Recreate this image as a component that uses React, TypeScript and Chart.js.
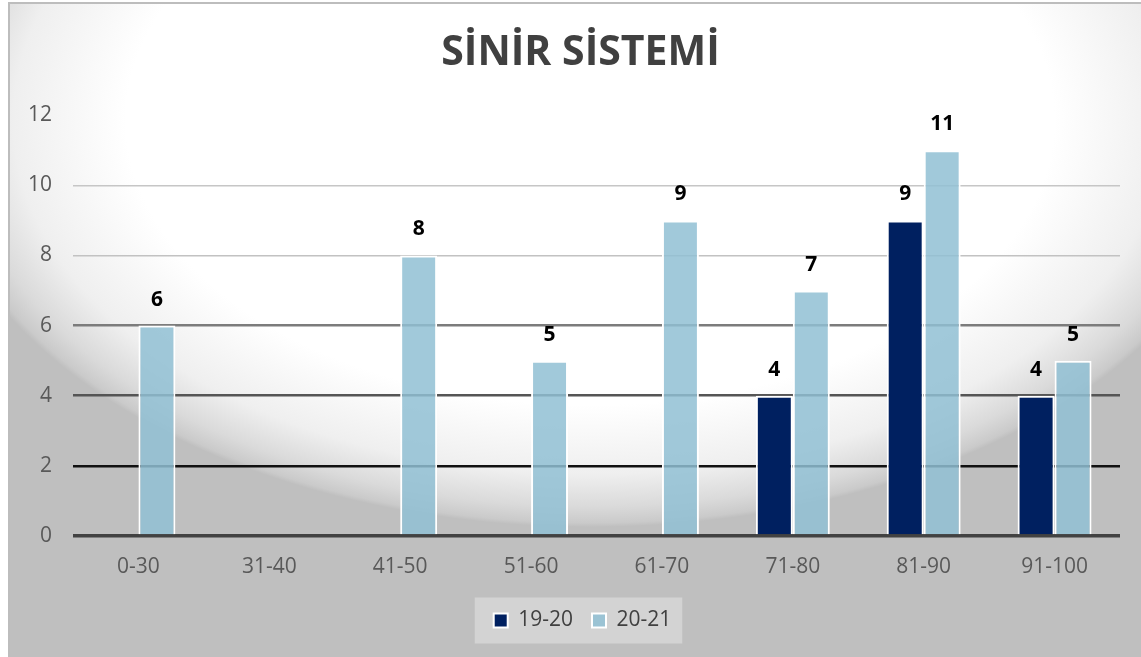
import React, { useEffect, useRef } from "react";
import { Chart, registerables } from "chart.js";

Chart.register(...registerables);

const chartTitle = "SİNİR SİSTEMİ";
const categories = ["0-30", "31-40", "41-50", "51-60", "61-70", "71-80", "81-90", "91-100"];
const seriesNames = ["19-20", "20-21"];
const values1920: (number | null)[] = [null, null, null, null, null, 4, 9, 4];
const values2021: (number | null)[] = [6, null, 8, 5, 9, 7, 11, 5];
const yMin = 0;
const yMax = 12;
const yStep = 2;

const FONT = "'Open Sans', 'Noto Sans', sans-serif";

function gridStyle(v: number): [string, number] {
  if (v >= 12) return ["rgba(0,0,0,0)", 0];
  if (v >= 10) return ["#c6c6c6", 1.5];
  if (v >= 8) return ["#c2c2c2", 1.5];
  if (v >= 6) return ["#7c7c7c", 2.5];
  if (v >= 4) return ["#555555", 2.5];
  if (v >= 2) return ["#111111", 2.5];
  return ["#424242", 3.5];
}

const backgroundPlugin = {
  id: "bgPlugin",
  afterUpdate(chart: any) {
    const t = chart.titleBlock;
    if (t) {
      t.left += 16;
      t.right += 16;
    }
    const lg = chart.legend;
    if (lg) {
      lg.left += 18;
      lg.right += 18;
      (lg.legendHitBoxes || []).forEach((h: any) => {
        h.left += 18;
      });
    }
  },
  beforeDraw(chart: any) {
    const { ctx, width, height } = chart;
    ctx.save();
    ctx.fillStyle = "#ffffff";
    ctx.fillRect(0, 0, width, height);
    const fx = 9;
    const fy = 3;
    ctx.fillStyle = "#bfbfbf";
    ctx.fillRect(fx, fy, width - fx, height - fy);

    ctx.save();
    ctx.beginPath();
    ctx.rect(fx, fy, width - fx, height - fy);
    ctx.clip();
    const cx = 590;
    const cy = 120;
    const rx = 663;
    const ry = 407;
    ctx.translate(cx, cy);
    ctx.scale(1, ry / rx);
    const g = ctx.createRadialGradient(0, 0, 0, 0, 0, rx);
    g.addColorStop(0, "#ffffff");
    g.addColorStop(0.7, "#ffffff");
    g.addColorStop(0.87, "#efefef");
    g.addColorStop(0.95, "#dadada");
    g.addColorStop(0.99, "#cacaca");
    g.addColorStop(1, "#bfbfbf");
    ctx.fillStyle = g;
    ctx.beginPath();
    ctx.arc(0, 0, rx, 0, Math.PI * 2);
    ctx.fill();
    ctx.restore();

    ctx.strokeStyle = "#bdbdbd";
    ctx.lineWidth = 2;
    ctx.strokeRect(fx, fy, width + 20, height + 20);

    const lg = chart.legend;
    if (lg && lg.legendHitBoxes && lg.legendHitBoxes.length) {
      const hb = lg.legendHitBoxes;
      const first = hb[0];
      const last = hb[hb.length - 1];
      const left = first.left - 19;
      const right = last.left + last.width + 11;
      const midY = first.top + first.height / 2;
      ctx.fillStyle = "#d3d3d3";
      ctx.fillRect(left, midY - 23, right - left, 46);
    }
    ctx.restore();
  },
};

const valueLabelPlugin = {
  id: "valueLabels",
  afterDatasetsDraw(chart: any) {
    const { ctx } = chart;
    ctx.save();
    ctx.font = `bold 21px ${FONT}`;
    ctx.fillStyle = "#000000";
    ctx.textAlign = "center";
    ctx.textBaseline = "middle";
    chart.data.datasets.forEach((ds: any, i: number) => {
      const meta = chart.getDatasetMeta(i);
      meta.data.forEach((el: any, j: number) => {
        const v = ds.data[j];
        if (v === null || v === undefined) return;
        ctx.fillText(String(v), el.x, el.y - 26);
      });
    });
    ctx.restore();
  },
};

export default function App() {
  const canvasRef = useRef<HTMLCanvasElement | null>(null);

  useEffect(() => {
    if (!canvasRef.current) return;
    const chart = new Chart(canvasRef.current, {
      type: "bar",
      data: {
        labels: categories,
        datasets: [
          {
            label: seriesNames[0],
            data: values1920,
            backgroundColor: "#002060",
            borderColor: "#ffffff",
            borderWidth: 2,
          },
          {
            label: seriesNames[1],
            data: values2021,
            backgroundColor: "rgba(144,191,212,0.85)",
            borderColor: "#ffffff",
            borderWidth: 2,
          },
        ],
      },
      options: {
        animation: false,
        responsive: false,
        maintainAspectRatio: false,
        datasets: {
          bar: {
            categoryPercentage: 0.565,
            barPercentage: 1.0,
          },
        },
        layout: {
          padding: { left: 9, right: 21, top: 0, bottom: 16 },
        },
        scales: {
          x: {
            grid: { display: false, drawTicks: false },
            border: { display: false },
            ticks: {
              color: "#595959",
              font: { family: FONT, size: 21 },
              padding: 18,
              maxRotation: 0,
            },
            afterFit(scale: any) {
              scale.height = 55;
            },
          },
          y: {
            min: yMin,
            max: yMax,
            ticks: {
              stepSize: yStep,
              color: "#595959",
              font: { family: FONT, size: 21 },
              padding: 21,
            },
            grid: {
              drawTicks: false,
              color: (c: any) => gridStyle(c.tick ? c.tick.value : 0)[0],
              lineWidth: (c: any) => gridStyle(c.tick ? c.tick.value : 0)[1],
            },
            border: { display: false },
            afterFit(scale: any) {
              scale.width = 64;
            },
          },
        },
        plugins: {
          title: {
            display: true,
            text: chartTitle,
            color: "#404040",
            font: { family: FONT, size: 41, weight: "bold" },
            padding: { top: 29, bottom: 37 },
          },
          legend: {
            display: true,
            position: "bottom",
            labels: {
              boxWidth: 14,
              boxHeight: 14,
              padding: 19,
              color: "#404040",
              font: { family: FONT, size: 21 },
            },
          },
          tooltip: { enabled: false },
        },
      },
      plugins: [backgroundPlugin, valueLabelPlugin],
    });
    return () => chart.destroy();
  }, []);

  return (
    <div style={{ position: "absolute", left: 0, top: 0, width: 1141, height: 657 }}>
      <canvas ref={canvasRef} width={1141} height={657} style={{ display: "block", width: 1141, height: 657 }} />
    </div>
  );
}
